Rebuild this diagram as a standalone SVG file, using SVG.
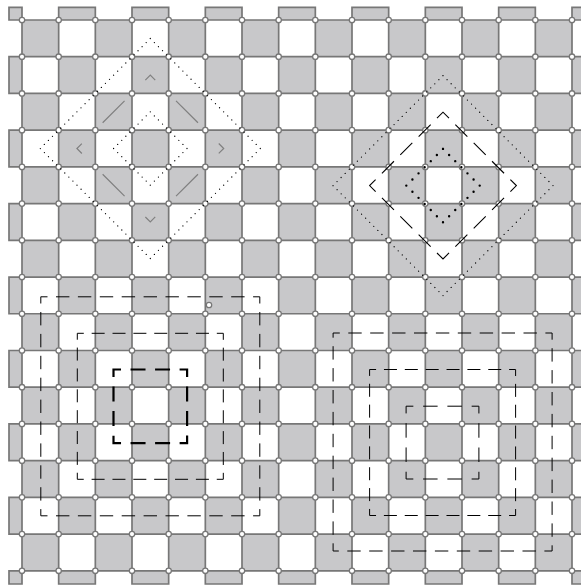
<svg xmlns="http://www.w3.org/2000/svg" width="581" height="585" viewBox="0 0 581 585">
<style>
.g{fill:#c8c8ca;stroke:#777;stroke-width:1.7}
.c{fill:#fff;stroke:#777;stroke-width:1.3}
.dot{fill:none;stroke:#000;stroke-width:1.3;stroke-linecap:round;stroke-dasharray:0 5.761}
.doti{fill:none;stroke:#000;stroke-width:1.3;stroke-linecap:round;stroke-dasharray:0 5.767}
.dotb{fill:none;stroke:#000;stroke-width:2.4;stroke-linecap:round;stroke-dasharray:0 8.65}
.gd{fill:none;stroke:#808080;stroke-width:1.2;stroke-dasharray:14 29.4 31 29.4;stroke-dashoffset:7}
.bd{fill:none;stroke:#000;stroke-width:1.1;stroke-dasharray:17 8.95;stroke-dashoffset:8.5}
.so{fill:none;stroke:#000;stroke-width:1;stroke-dasharray:13.4 8.5;stroke-dashoffset:6.7}
.sm{fill:none;stroke:#000;stroke-width:1;stroke-dasharray:13 7.86;stroke-dashoffset:6.5}
.si{fill:none;stroke:#000;stroke-width:1;stroke-dasharray:14.5 9.77;stroke-dashoffset:7.25}
.sb{fill:none;stroke:#000;stroke-width:2.2;stroke-dasharray:15 9.53;stroke-dashoffset:7.5}
</style>
<defs>
<path id="re" d="M9,0H22V36.72H9Z M58.67,0H95.33V36.72H58.67Z M132,0H168.67V36.72H132Z M205.33,0H242V36.72H205.33Z M278.67,0H315.33V36.72H278.67Z M352,0H388.67V36.72H352Z M425.33,0H462V36.72H425.33Z M498.67,0H535.33V36.72H498.67Z M572,0H590V36.72H572Z"/>
<path id="ro" d="M22,0H58.67V36.72H22Z M95.33,0H132V36.72H95.33Z M168.67,0H205.33V36.72H168.67Z M242,0H278.67V36.72H242Z M315.33,0H352V36.72H315.33Z M388.67,0H425.33V36.72H388.67Z M462,0H498.67V36.72H462Z M535.33,0H572V36.72H535.33Z"/>
<g id="cr">
<circle cx="22" cy="0" r="2.7"/><circle cx="58.67" cy="0" r="2.7"/><circle cx="95.33" cy="0" r="2.7"/><circle cx="132" cy="0" r="2.7"/><circle cx="168.67" cy="0" r="2.7"/><circle cx="205.33" cy="0" r="2.7"/><circle cx="242" cy="0" r="2.7"/><circle cx="278.67" cy="0" r="2.7"/><circle cx="315.33" cy="0" r="2.7"/><circle cx="352" cy="0" r="2.7"/><circle cx="388.67" cy="0" r="2.7"/><circle cx="425.33" cy="0" r="2.7"/><circle cx="462" cy="0" r="2.7"/><circle cx="498.67" cy="0" r="2.7"/><circle cx="535.33" cy="0" r="2.7"/><circle cx="572" cy="0" r="2.7"/>
</g>
</defs>
<rect width="581" height="585" fill="#fff"/>
<g id="board" class="g">
<path d="M9,7.3H22V20H9Z M58.67,7.3H95.33V20H58.67Z M132,7.3H168.67V20H132Z M205.33,7.3H242V20H205.33Z M278.67,7.3H315.33V20H278.67Z M352,7.3H388.67V20H352Z M425.33,7.3H462V20H425.33Z M498.67,7.3H535.33V20H498.67Z M572,7.3H590V20H572Z"/>
<use href="#ro" y="20"/>
<use href="#re" y="56.72"/>
<use href="#ro" y="93.44"/>
<use href="#re" y="130.16"/>
<use href="#ro" y="166.88"/>
<use href="#re" y="203.6"/>
<use href="#ro" y="240.32"/>
<use href="#re" y="277.04"/>
<use href="#ro" y="313.76"/>
<use href="#re" y="350.48"/>
<use href="#ro" y="387.2"/>
<use href="#re" y="423.92"/>
<use href="#ro" y="460.64"/>
<use href="#re" y="497.36"/>
<use href="#ro" y="534.08"/>
<path d="M9,570.8H22V584H9Z M58.67,570.8H95.33V584H58.67Z M132,570.8H168.67V584H132Z M205.33,570.8H242V584H205.33Z M278.67,570.8H315.33V584H278.67Z M352,570.8H388.67V584H352Z M425.33,570.8H462V584H425.33Z M498.67,570.8H535.33V584H498.67Z M572,570.8H590V584H572Z"/>
</g>
<g id="joints" class="c">
<use href="#cr" y="20"/>
<use href="#cr" y="56.72"/>
<use href="#cr" y="93.44"/>
<use href="#cr" y="130.16"/>
<use href="#cr" y="166.88"/>
<use href="#cr" y="203.6"/>
<use href="#cr" y="240.32"/>
<use href="#cr" y="277.04"/>
<use href="#cr" y="313.76"/>
<use href="#cr" y="350.48"/>
<use href="#cr" y="387.2"/>
<use href="#cr" y="423.92"/>
<use href="#cr" y="460.64"/>
<use href="#cr" y="497.36"/>
<use href="#cr" y="534.08"/>
<use href="#cr" y="570.8"/>
<circle cx="209" cy="305" r="2.7"/>
</g>
<g id="diamond-left">
<path class="dot" d="M150.3,38.5L260.3,148.5L150.3,258.5L40.3,148.5Z"/>
<path class="gd" d="M150.3,75.1L223.7,148.5L150.3,221.9L76.9,148.5Z"/>
<path class="doti" d="M150.3,111.8L187,148.5L150.3,185.2L113.6,148.5Z"/>
</g>
<g id="diamond-right">
<path class="dot" d="M443,75.6L553,185.6L443,295.6L333,185.6Z"/>
<path class="bd" d="M443,112.2L516.4,185.6L443,259L369.6,185.6Z"/>
<path class="dotb" d="M443,148.9L479.7,185.6L443,222.3L406.3,185.6Z"/>
</g>
<g id="squares-left">
<rect class="so" x="40.8" y="296.8" width="219" height="219"/>
<rect class="sm" x="77.3" y="333.3" width="146" height="146"/>
<rect class="sb" x="113.5" y="369.5" width="73.6" height="73.6"/>
</g>
<g id="squares-right">
<rect class="so" x="333.1" y="333" width="219" height="218"/>
<rect class="sm" x="369.6" y="369.5" width="146" height="146"/>
<rect class="si" x="406.1" y="406.2" width="72.8" height="72.8"/>
</g>
</svg>
